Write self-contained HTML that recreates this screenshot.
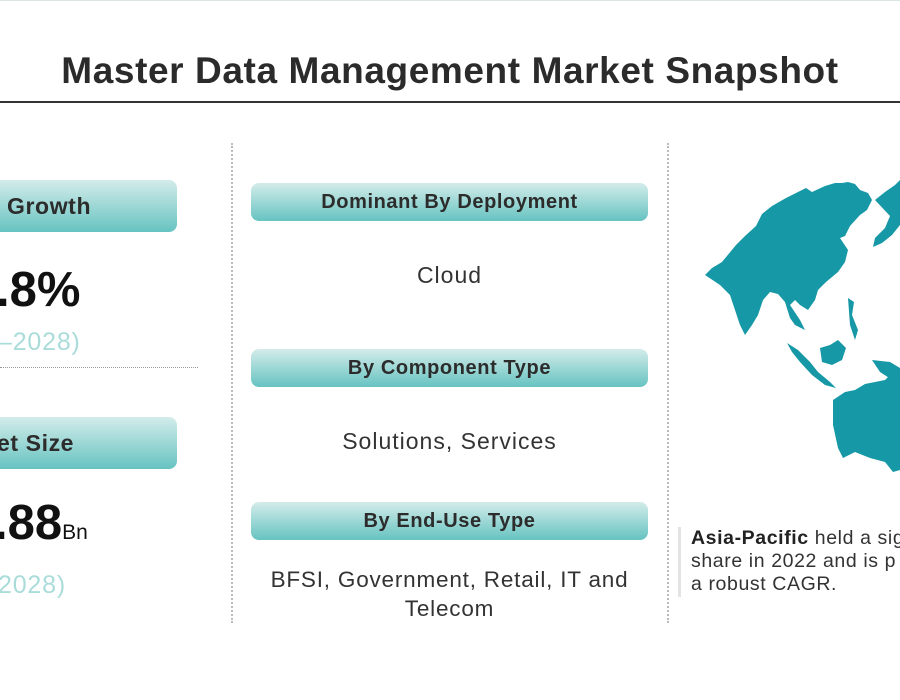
<!DOCTYPE html>
<html><head><style>
body{margin:0;width:900px;height:700px;background:#fff;position:relative;overflow:hidden;font-family:"Liberation Sans",sans-serif;color:#333}
.a{position:absolute}
.box{position:absolute;border-radius:8px;background:linear-gradient(#d3ecea,#66c3c1);font-weight:bold;color:#2c2c2c;display:flex;align-items:center;justify-content:center;letter-spacing:0.6px}
.t{position:absolute;text-align:center;letter-spacing:1px}
</style></head><body>
<div class="a" style="left:0;top:0;width:900px;height:1px;background:#d8e6e4"></div>
<div class="t" style="left:0;top:50px;width:900px;font-size:37px;font-weight:bold;color:#2b2b2b;letter-spacing:0.6px">Master Data Management Market Snapshot</div>
<div class="a" style="left:0;top:101px;width:900px;height:2px;background:#333"></div>
<div class="a" style="left:231px;top:143px;height:480px;border-left:2px dotted #bbb"></div>
<div class="a" style="left:667px;top:143px;height:480px;border-left:2px dotted #bbb"></div>

<div class="box" style="left:-20px;top:180px;width:197px;height:52px;justify-content:flex-start"><span style="margin-left:27px;font-size:23px">Growth</span></div>
<div class="a" style="left:-4px;top:262px;font-size:49px;font-weight:bold;color:#111">.8%</div>
<div class="a" style="left:-2px;top:328px;font-size:25px;color:#aadcd9;letter-spacing:0.8px">–2028)</div>
<div class="a" style="left:0;top:367px;width:198px;border-top:1px dotted #999"></div>
<div class="box" style="left:-20px;top:417px;width:197px;height:52px;justify-content:flex-start"><span style="margin-left:17px;font-size:23px">et Size</span></div>
<div class="a" style="left:-6px;top:495px;font-size:49px;font-weight:bold;color:#111">.88<span style="font-size:21px;font-weight:normal">Bn</span></div>
<div class="a" style="left:-2px;top:571px;font-size:25px;color:#aadcd9;letter-spacing:0.8px">2028)</div>

<div class="box" style="left:251px;top:183px;width:397px;height:38px;font-size:20px">Dominant By Deployment</div>
<div class="t" style="left:251px;top:262px;width:397px;font-size:23px">Cloud</div>
<div class="box" style="left:251px;top:349px;width:397px;height:38px;font-size:20px">By Component Type</div>
<div class="t" style="left:251px;top:428px;width:397px;font-size:23px">Solutions, Services</div>
<div class="box" style="left:251px;top:502px;width:397px;height:38px;font-size:20px">By End-Use Type</div>
<div class="t" style="left:245px;top:565px;width:409px;font-size:22.5px;line-height:29px;letter-spacing:0.8px">BFSI, Government, Retail, IT and Telecom</div>

<svg class="a" style="left:0;top:0" width="900" height="700">
<path fill="#1698a6" d="M705,275 L712,268 L722,262 L736,245 L745,236 L756,226 L762,214 L772,206 L786,198 L798,192 L806,188 L812,192 L825,186 L835,183 L842,183 L848,182 L855,184 L860,190 L868,193 L872,200 L867,210 L860,215 L850,226 L845,236 L840,238 L848,250 L845,262 L838,272 L826,282 L818,290 L815,300 L808,310 L800,305 L795,300 L790,305 L800,320 L805,330 L795,325 L790,318 L785,302 L778,294 L770,292 L763,300 L758,315 L752,325 L745,335 L740,325 L735,310 L730,295 L720,285 Z"/>
<path fill="#1698a6" d="M875,200 L885,192 L895,185 L900,180 L900,225 L892,235 L882,243 L873,247 L875,238 L885,228 L890,216 Z"/>
<path fill="#1698a6" d="M787,343 L798,350 L810,362 L818,372 L830,382 L836,388 L825,385 L812,375 L800,362 L792,352 Z"/>
<path fill="#1698a6" d="M820,348 L830,345 L838,340 L846,348 L842,360 L832,365 L822,362 Z"/>
<path fill="#1698a6" d="M848,298 L854,302 L852,315 L858,330 L855,340 L850,325 Z"/>
<path fill="#1698a6" d="M872,360 L890,362 L900,368 L900,385 L880,372 Z"/>
<path fill="#1698a6" d="M833,400 L845,392 L855,390 L865,384 L875,382 L885,380 L893,372 L900,378 L900,470 L893,472 L885,462 L870,458 L855,452 L843,458 L838,448 L833,425 Z"/>
</svg>

<div class="a" style="left:678px;top:527px;width:3px;height:70px;background:#e3e3e3"></div>
<div class="a" style="left:691px;top:527px;width:260px;font-size:19.5px;line-height:23px;color:#333;white-space:nowrap;letter-spacing:0.6px"><b style="color:#222">Asia-Pacific</b> held a sig<br>share in 2022 and is p<br>a robust CAGR.</div>
</body></html>
